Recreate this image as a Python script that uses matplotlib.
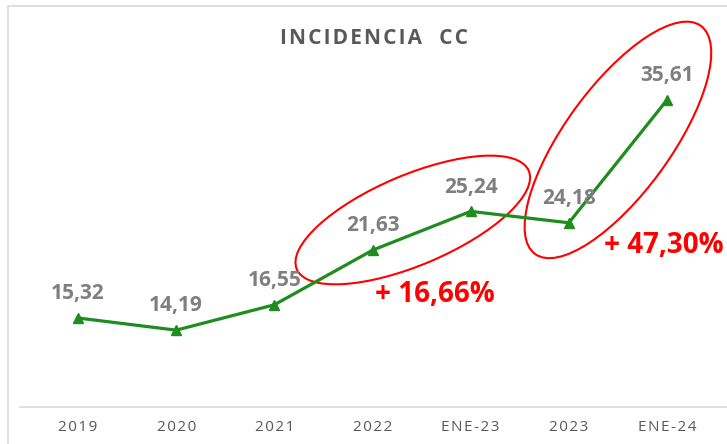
import matplotlib
matplotlib.use("Agg")
import matplotlib.pyplot as plt
import matplotlib.patches as patches
import matplotlib.transforms as mtransforms

plt.rcParams['font.family'] = ['Open Sans', 'DejaVu Sans']

# data
periodos = ['2019', '2020', '2021', '2022', 'ENE-23', '2023', 'ENE-24']
incidencia = [15.32, 14.19, 16.55, 21.63, 25.24, 24.18, 35.61]
etiquetas = ['15,32', '14,19', '16,55', '21,63', '25,24', '24,18', '35,61']
variaciones = ['+ 16,66%', '+ 47,30%']


def espaciar(s, sep='\u200a'):
    # wide letter spacing like the original chart
    return sep.join(s)


W, H = 727, 444
fig = plt.figure(figsize=(W / 100, H / 100), dpi=100)

# light frame around the chart area
frame = patches.Rectangle((8 / W, -0.1), 1.2, (H - 6) / H + 0.1, transform=fig.transFigure,
                          fill=False, edgecolor='#d9d9d9', linewidth=1.2)
fig.patches.append(frame)

ax = fig.add_axes([20 / W, (H - 407) / H, 1 - 20 / W, (407 - 42) / H])
ax.set_xlim(-0.591, 6.611)
ax.set_ylim(7.04, 41.0)

x = list(range(len(periodos)))
ax.plot(x, incidencia, color='#1e8c1e', linewidth=2.3, marker='^', markersize=7.5,
        markerfacecolor='#1e8c1e', markeredgecolor='#1e8c1e', zorder=3)

for xi, yi, txt in zip(x, incidencia, etiquetas):
    ax.annotate(txt, (xi, yi), xytext=(0, 17.5), textcoords='offset points',
                ha='center', va='center', fontsize=15, fontweight='bold', color='#7f7f7f')

ax.set_xticks(x)
ax.set_xticklabels([espaciar(p) for p in periodos])
ax.tick_params(axis='x', length=0, pad=9, labelsize=11, labelcolor='#595959')
ax.set_yticks([])
for s in ['top', 'right', 'left']:
    ax.spines[s].set_visible(False)
ax.spines['bottom'].set_color('#d9d9d9')
ax.spines['bottom'].set_linewidth(1.2)

# red ellipses highlighting the two increases (centre in data, size in inches)
for (cx, cy), (w, h, ang) in [((3.41, 24.44), (2.52, 0.90, 23)),
                              ((5.50, 31.89), (2.82, 1.06, 54))]:
    tr = fig.dpi_scale_trans + mtransforms.ScaledTranslation(cx, cy, ax.transData)
    e = patches.Ellipse((0, 0), w, h, angle=ang, transform=tr, fill=False,
                        edgecolor='#ff0000', linewidth=1.5, clip_on=False)
    ax.add_patch(e)

ax.text(3.64, 17.55, variaciones[0], ha='center', va='center', fontsize=20,
        fontweight='bold', color='#ff0000')
ax.text(5.97, 22.02, variaciones[1], ha='center', va='center', fontsize=20,
        fontweight='bold', color='#ff0000')

fig.text(374 / W, 1 - 38 / H, espaciar('INCIDENCIA  CC'), ha='center', va='center',
         fontsize=15, fontweight='bold', color='#595959')

fig.savefig('out.png', dpi=100)
